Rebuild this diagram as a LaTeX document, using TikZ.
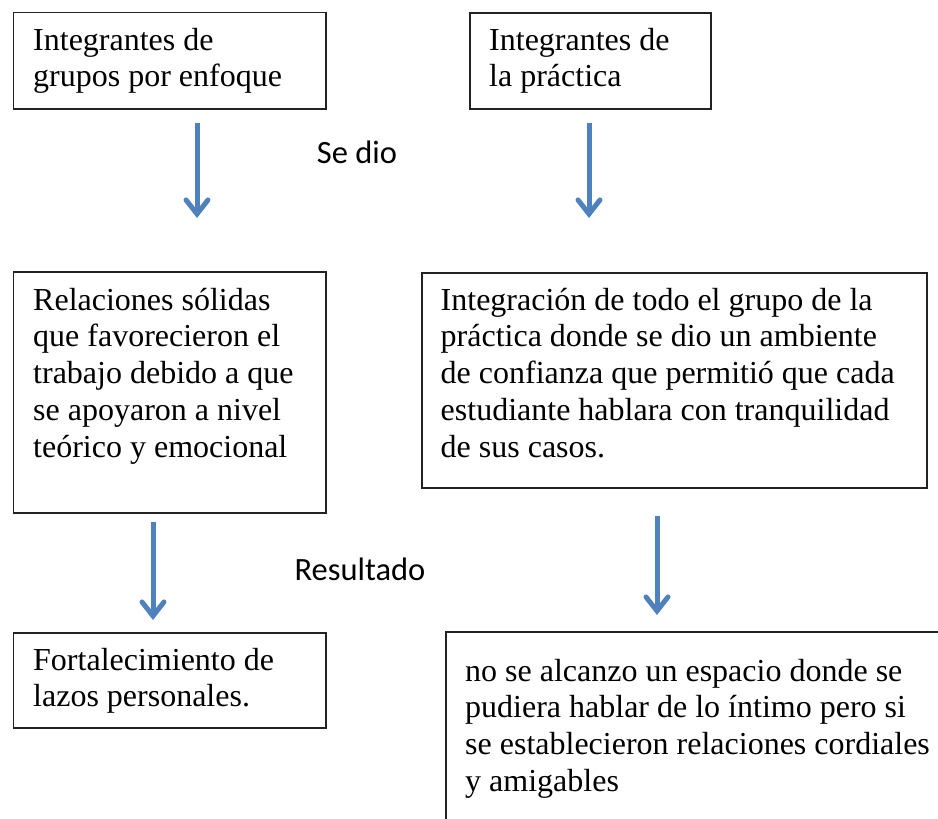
\documentclass[tikz,border=0pt]{standalone}
\usepackage{fontspec}
\setmainfont{Liberation Serif}
\newfontfamily\calfont{Carlito}
\usetikzlibrary{arrows.meta}
\definecolor{arrowblue}{HTML}{4F81BD}
\definecolor{boxline}{HTML}{222222}
\begin{document}
\begin{tikzpicture}[x=1pt,y=-1pt,
  box/.style={draw=boxline, line width=1.5pt, rectangle, inner sep=0pt, anchor=north west},
  txt/.style={inner sep=0pt, anchor=base west, font=\fontsize{32}{36.8}\selectfont},
  lbl/.style={inner sep=0pt, anchor=base, font=\calfont\fontsize{32.5}{39}\selectfont},
  flow/.style={draw=arrowblue, line width=5pt, -{Straight Barb[length=14pt,width=22pt,line cap=round]}}]
\useasboundingbox (0,0) rectangle (938,819);
\clip (0,0) rectangle (938,819);

% boxes
\node[box, minimum width=312.3pt, minimum height=96.3pt] (b1) at (12.7,11.7) {};
\node[box, minimum width=241pt, minimum height=96pt] (b2) at (469,12) {};
\node[box, minimum width=312.3pt, minimum height=241pt] (b3) at (12.7,271) {};
\node[box, minimum width=505pt, minimum height=215pt] (b4) at (421,272) {};
\node[box, minimum width=312.3pt, minimum height=95pt] (b5) at (12.7,632) {};
\node[box, minimum width=560pt, minimum height=260pt] (b6) at (445,631) {};

% texts
\node[txt] (t1) at (33,50) {\parbox[t]{290pt}{Integrantes de\\grupos por enfoque}};
\node[txt] (t2) at (489,50) {\parbox[t]{215pt}{Integrantes de\\la práctica}};
\node[txt] (t3) at (33,310) {\parbox[t]{290pt}{Relaciones sólidas\\que favorecieron el\\trabajo debido a que\\se apoyaron a nivel\\teórico y emocional}};
\node[txt] (t4) at (440.5,310) {\parbox[t]{480pt}{Integración de todo el grupo de la\\práctica donde se dio un ambiente\\de confianza que permitió que cada\\estudiante hablara con tranquilidad\\de sus casos.}};
\node[txt] (t5) at (33,670) {\parbox[t]{290pt}{Fortalecimiento de\\lazos personales.}};
\node[txt] (t6) at (465,681) {\parbox[t]{480pt}{no se alcanzo un espacio donde se\\pudiera hablar de lo íntimo pero si\\se establecieron relaciones cordiales\\y amigables}};

% labels
\node[lbl] (l1) at (357,163) {Se dio};
\node[lbl] (l2) at (360,580) {Resultado};

% arrows
\coordinate (a1s) at (197,123); \coordinate (a1e) at (197,218);
\coordinate (a2s) at (589,123); \coordinate (a2e) at (589,218);
\coordinate (a3s) at (153,522); \coordinate (a3e) at (153,620);
\coordinate (a4s) at (657,516); \coordinate (a4e) at (657,615);
\draw[flow] (a1s) -- (a1e);
\draw[flow] (a2s) -- (a2e);
\draw[flow] (a3s) -- (a3e);
\draw[flow] (a4s) -- (a4e);
\end{tikzpicture}
\end{document}
